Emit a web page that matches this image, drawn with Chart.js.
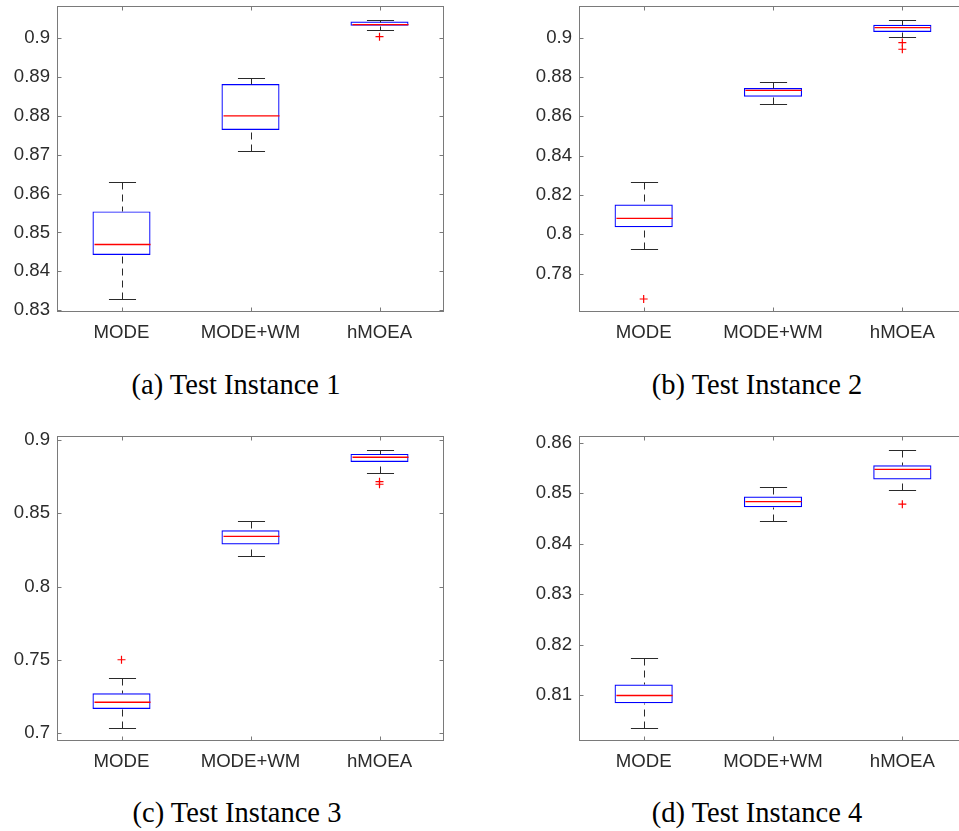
<!DOCTYPE html>
<html>
<head>
<meta charset="utf-8">
<script src="https://cdn.jsdelivr.net/npm/chart.js@4.4.0/dist/chart.umd.min.js"></script>
<style>
  html, body { margin: 0; padding: 0; background: #fff; overflow: hidden; }
  #fig { position: relative; width: 959px; height: 831px; overflow: hidden; background: #fff; }
  canvas { position: absolute; }
  .cap { position: absolute; font-family: 'Liberation Serif', 'Times New Roman', serif; font-size: 28.5px; line-height: 1;
         color: #000; white-space: nowrap; transform: translateX(-50%); }
</style>
</head>
<body>
<div id="fig">
<div class="cap" style="left:236px; top:371px">(a) Test Instance 1</div>
<div class="cap" style="left:757px; top:371px">(b) Test Instance 2</div>
<div class="cap" style="left:237px; top:799px">(c) Test Instance 3</div>
<div class="cap" style="left:757px; top:799px">(d) Test Instance 4</div>
</div>
<script>
// Algorithms compared in every panel
const categories = ['MODE', 'MODE+WM', 'hMOEA'];

// Test Instance 1
const inst1Low      = [0.8329, 0.8709, 0.9021];
const inst1Q1       = [0.8442, 0.8764, 0.9032];
const inst1Median   = [0.8469, 0.8800, 0.9035];
const inst1Q3       = [0.8554, 0.8882, 0.9043];
const inst1High     = [0.8630, 0.8898, 0.9048];
const inst1Outliers = [[], [], [0.9004]];
const inst1Ticks    = [0.83, 0.84, 0.85, 0.86, 0.87, 0.88, 0.89, 0.9];
const inst1Range    = [0.8295, 0.9083];

// Test Instance 2
const inst2Low      = [0.7927, 0.8663, 0.9002];
const inst2Q1       = [0.8036, 0.8700, 0.9029];
const inst2Median   = [0.8081, 0.8732, 0.9051];
const inst2Q3       = [0.8151, 0.8744, 0.9066];
const inst2High     = [0.8264, 0.8773, 0.9092];
const inst2Outliers = [[0.7671], [], [0.8975, 0.8941]];
const inst2Ticks    = [0.78, 0.8, 0.82, 0.84, 0.86, 0.88, 0.9];
const inst2Range    = [0.7605, 0.9161];

// Test Instance 3
const inst3Low      = [0.7036, 0.8209, 0.8777];
const inst3Q1       = [0.7166, 0.8287, 0.8850];
const inst3Median   = [0.7212, 0.8343, 0.8882];
const inst3Q3       = [0.7273, 0.8384, 0.8905];
const inst3High     = [0.7377, 0.8445, 0.8934];
const inst3Outliers = [[0.7502], [], [0.8716, 0.8698]];
const inst3Ticks    = [0.7, 0.75, 0.8, 0.85, 0.9];
const inst3Range    = [0.6948, 0.9027];

// Test Instance 4
const inst4Low      = [0.8035, 0.8444, 0.8507];
const inst4Q1       = [0.8084, 0.8472, 0.8527];
const inst4Median   = [0.8099, 0.8483, 0.8547];
const inst4Q3       = [0.8121, 0.8493, 0.8555];
const inst4High     = [0.8173, 0.8512, 0.8586];
const inst4Outliers = [[], [], [0.8478]];
const inst4Ticks    = [0.81, 0.82, 0.83, 0.84, 0.85, 0.86];
const inst4Range    = [0.8009, 0.8613];

const TICK_FONT = { family: "'Liberation Sans', Arial, Helvetica, sans-serif", size: 18.6 };
const TEXT_COLOR = '#2b2b2b';

// Axes box with inward tick marks on all four sides
const framePlugin = {
  id: 'frame',
  afterDraw(chart) {
    const { ctx, chartArea: a, scales: { x, y } } = chart;
    const L = Math.round(a.left) + 0.5, R = Math.round(a.right) - 0.5;
    const T = Math.round(a.top) + 0.5, B = Math.round(a.bottom) - 0.5;
    ctx.save();
    ctx.strokeStyle = '#7a7a7a';
    ctx.lineWidth = 1;
    ctx.strokeRect(L, T, R - L, B - T);
    ctx.beginPath();
    y.ticks.forEach(t => {
      const py = Math.round(y.getPixelForValue(t.value)) + 0.5;
      ctx.moveTo(L, py); ctx.lineTo(L + 4, py);
      ctx.moveTo(R, py); ctx.lineTo(R - 4, py);
    });
    categories.forEach((c, i) => {
      const px = Math.round(x.getPixelForValue(i)) + 0.5;
      ctx.moveTo(px, B); ctx.lineTo(px, B - 4);
      ctx.moveTo(px, T); ctx.lineTo(px, T + 4);
    });
    ctx.stroke();
    ctx.restore();
  }
};

// Whiskers (dashed stems + caps) and medians for each box
function boxWhiskerPlugin(st) {
  return {
    id: 'boxWhiskers',
    afterDatasetsDraw(chart) {
      const { ctx, scales: { x, y } } = chart;
      const band = x.getPixelForValue(1) - x.getPixelForValue(0);
      const py = v => Math.round(y.getPixelForValue(v)) + 0.5;
      ctx.save();
      ctx.lineWidth = 1;
      categories.forEach((c, i) => {
        const cx = Math.round(x.getPixelForValue(i)) + 0.5;
        ctx.strokeStyle = '#2a2a2a';
        ctx.setLineDash([7, 5]);
        ctx.beginPath();
        ctx.moveTo(cx, py(st.high[i])); ctx.lineTo(cx, py(st.q3[i]));
        ctx.moveTo(cx, py(st.low[i]));  ctx.lineTo(cx, py(st.q1[i]));
        ctx.stroke();
        ctx.setLineDash([]);
        const cw = band * 0.105;
        ctx.beginPath();
        ctx.moveTo(cx - cw, py(st.high[i])); ctx.lineTo(cx + cw, py(st.high[i]));
        ctx.moveTo(cx - cw, py(st.low[i]));  ctx.lineTo(cx + cw, py(st.low[i]));
        ctx.stroke();
        const bw = band * 0.225;
        const my = y.getPixelForValue(st.median[i]);
        ctx.strokeStyle = '#ff0000';
        ctx.lineWidth = 1.4;
        ctx.beginPath();
        ctx.moveTo(cx - bw + 1, my); ctx.lineTo(cx + bw - 1, my);
        ctx.stroke();
        ctx.lineWidth = 1;
      });
      ctx.restore();
    }
  };
}

function drawPanel(plot, range, ticks, st) {
  const YW = 57, XH = 34, PT = 14, PR = 2;
  const cv = document.createElement('canvas');
  const left = plot.l - YW, top = plot.t - PT;
  cv.width = plot.r - left + PR;
  cv.height = plot.b - top + XH;
  cv.style.left = left + 'px';
  cv.style.top = top + 'px';
  document.getElementById('fig').appendChild(cv);

  const outlierPoints = [];
  st.outliers.forEach((vals, i) => vals.forEach(v => outlierPoints.push({ x: categories[i], y: v })));

  const noEdgePadding = s => { s.paddingTop = 0; s.paddingBottom = 0; s.paddingLeft = 0; s.paddingRight = 0; };

  new Chart(cv, {
    type: 'bar',
    data: {
      labels: categories,
      datasets: [
        {
          type: 'bar',
          data: categories.map((c, i) => [st.q1[i], st.q3[i]]),
          backgroundColor: 'rgba(0,0,0,0)',
          borderColor: '#0000ff',
          borderWidth: 1.2,
          borderSkipped: false,
          barPercentage: 0.45,
          categoryPercentage: 1,
          order: 2
        },
        {
          type: 'scatter',
          data: outlierPoints,
          pointStyle: 'cross',
          pointRadius: 4,
          pointBorderColor: '#ff0000',
          pointBorderWidth: 1.2,
          showLine: false,
          order: 1
        }
      ]
    },
    options: {
      responsive: false,
      animation: false,
      events: [],
      layout: { autoPadding: false, padding: { top: PT, right: PR, left: 0, bottom: 0 } },
      plugins: { legend: { display: false }, tooltip: { enabled: false } },
      scales: {
        x: {
          type: 'category',
          offset: true,
          grid: { display: false, drawTicks: false },
          border: { display: false },
          ticks: { color: TEXT_COLOR, font: TICK_FONT, padding: 10, maxRotation: 0, autoSkip: false },
          afterFit(s) { s.height = XH; noEdgePadding(s); }
        },
        y: {
          min: range[0],
          max: range[1],
          grid: { display: false, drawTicks: false },
          border: { display: false },
          ticks: { color: TEXT_COLOR, font: TICK_FONT, padding: 7, callback: v => String(+v.toFixed(4)) },
          afterBuildTicks(s) { s.ticks = ticks.map(v => ({ value: v })); },
          afterFit(s) { s.width = YW; noEdgePadding(s); }
        }
      }
    },
    plugins: [framePlugin, boxWhiskerPlugin(st)]
  });
}

drawPanel({ l: 57, t: 6, r: 444, b: 312 }, inst1Range, inst1Ticks,
  { low: inst1Low, q1: inst1Q1, median: inst1Median, q3: inst1Q3, high: inst1High, outliers: inst1Outliers });
drawPanel({ l: 579, t: 6, r: 967, b: 312 }, inst2Range, inst2Ticks,
  { low: inst2Low, q1: inst2Q1, median: inst2Median, q3: inst2Q3, high: inst2High, outliers: inst2Outliers });
drawPanel({ l: 57, t: 436, r: 444, b: 741 }, inst3Range, inst3Ticks,
  { low: inst3Low, q1: inst3Q1, median: inst3Median, q3: inst3Q3, high: inst3High, outliers: inst3Outliers });
drawPanel({ l: 579, t: 436, r: 967, b: 741 }, inst4Range, inst4Ticks,
  { low: inst4Low, q1: inst4Q1, median: inst4Median, q3: inst4Q3, high: inst4High, outliers: inst4Outliers });
</script>
</body>
</html>
